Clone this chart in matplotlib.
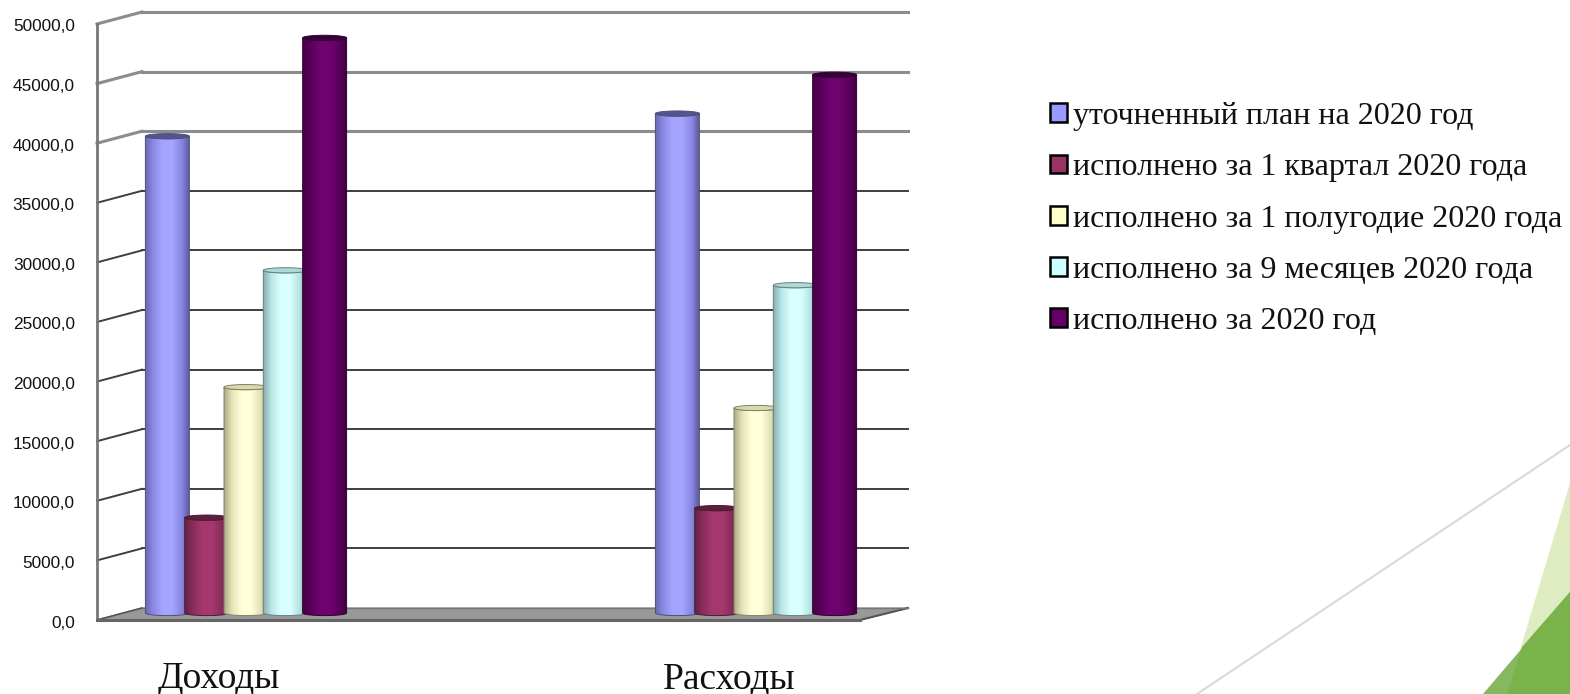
import numpy as np
import matplotlib
matplotlib.use("Agg")
import matplotlib.pyplot as plt
from matplotlib.colors import LinearSegmentedColormap, to_rgb
from matplotlib.patches import Patch, PathPatch, Polygon
from matplotlib.path import Path
from matplotlib.transforms import Affine2D, IdentityTransform

categories = ["Доходы", "Расходы"]
series_names = ["уточненный план на 2020 год", "исполнено за 1 квартал 2020 года",
                "исполнено за 1 полугодие 2020 года", "исполнено за 9 месяцев 2020 года",
                "исполнено за 2020 год"]
plan = [40000, 41900]
q1 = [8000, 8800]
half_year = [18950, 17200]
nine_months = [28750, 27500]
full_year = [48250, 45150]
series_values = [plan, q1, half_year, nine_months, full_year]
colors = ["#9999ff", "#993366", "#ffffcc", "#ccffff", "#660066"]
cap_shade = [0.55, 0.6, 0.85, 0.85, 0.55]
y_ticks = [0, 5000, 10000, 15000, 20000, 25000, 30000, 35000, 40000, 45000, 50000]
y_labels = ["0,0", "5000,0", "10000,0", "15000,0", "20000,0", "25000,0", "30000,0",
            "35000,0", "40000,0", "45000,0", "50000,0"]

W, H = 1570, 694
fig = plt.figure(figsize=(W / 100, H / 100), dpi=100, facecolor="white")

# decoration in pixel coordinates
def px(points):
    return [(x, H - y) for x, y in points]

(x0, y0), (x1, y1) = px([(1197, 694), (1570, 445)])
fig.add_artist(plt.Line2D([x0, x1], [y0, y1], color="#d9d9d9", lw=1.5, transform=IdentityTransform()))
for pts, col in [([(1570, 483), (1507, 694), (1570, 694)], "#dfebc1"),
                 ([(1570, 592), (1483, 694), (1570, 694)], "#85b85f"),
                 ([(1570, 592), (1522, 647), (1507, 694), (1570, 694)], "#7bb34b")]:
    fig.add_artist(Polygon(px(pts), closed=True, fc=col, ec="none", transform=IdentityTransform()))

ax_l, ax_r, ax_t, ax_b = 97, 860, 24, 620
ax = fig.add_axes([ax_l / W, 1 - ax_b / H, (ax_r - ax_l) / W, (ax_b - ax_t) / H])
ax.patch.set_alpha(0)
unit_x = 510.0
x_first = 219
xlim = ((ax_l - x_first) / unit_x, (ax_r - x_first) / unit_x)
ylim = (0, 50000)
unit_y = (ax_b - ax_t) / 50000
ax.set_xlim(xlim)
ax.set_ylim(ylim)

depth_x, depth_y = 45 / unit_x, 12 / unit_y   # depth of the walls in data units
bar_trans = ax.transData + Affine2D().translate(27, 7)
x_back_end = xlim[1] + depth_x + 3 / unit_x

# floor
ax.fill([xlim[0], xlim[0] + depth_x, x_back_end, xlim[1]],
        [0, depth_y, depth_y, 0], color="#999999", zorder=1, clip_on=False)
ax.plot([xlim[1], x_back_end], [0, depth_y], color="#555555", lw=1.5, zorder=1, clip_on=False)
ax.plot([xlim[0] + depth_x, x_back_end], [depth_y, depth_y], color="#777777", lw=1, zorder=1, clip_on=False)

# walls
for v in y_ticks[1:]:
    col, lw = ("#8c8c8c", 2.2) if v >= 40000 else ("#3f3f3f", 1.4)
    ax.plot([xlim[0], xlim[0] + depth_x], [v, v + depth_y], color=col, lw=lw, zorder=1, clip_on=False)
    ax.plot([xlim[0] + depth_x, x_back_end], [v + depth_y, v + depth_y],
            color=col, lw=lw, zorder=1, clip_on=False)
ax.plot([xlim[0], xlim[0] + depth_x], [0, depth_y], color="#555555", lw=1.2, zorder=1.5, clip_on=False)

# cylinders
width = 44 / unit_x
step = 39.3 / unit_x
ry = 2.6 / unit_y
theta = np.linspace(0, np.pi, 40)
z = 3
for i, (vals, col, shade) in enumerate(zip(series_values, colors, cap_shade)):
    c = np.array(to_rgb(col))
    light = np.clip(c * 1.06 + 0.01, 0, 1)
    cmap = LinearSegmentedColormap.from_list(
        f"cyl{i}", [(0, c * 0.68), (0.18, c * 0.9), (0.4, light), (0.62, light), (0.85, c * 0.88), (1, c * 0.62)])
    for k, v in enumerate(vals):
        xc = k + (i - 2) * step
        rx = width / 2
        bx = xc - rx * np.cos(theta)
        by = -ry * np.sin(theta)
        tx = xc + rx * np.cos(theta)
        ty = v - ry * np.sin(theta)
        verts = np.column_stack([np.r_[bx, tx], np.r_[by, ty]])
        body = Path(np.vstack([verts, verts[0]]), closed=True)
        im = ax.imshow(np.linspace(0, 1, 64).reshape(1, -1), cmap=cmap, aspect="auto",
                       extent=(xc - rx, xc + rx, -ry, v + ry), transform=bar_trans,
                       interpolation="bilinear", zorder=z + i)
        im.set_clip_path(body, bar_trans)
        ax.add_patch(PathPatch(body, fc="none", ec=c * 0.5, lw=0.7, transform=bar_trans,
                               zorder=z + i + 0.1, clip_on=False))
        th = np.linspace(0, 2 * np.pi, 60)
        ax.fill(xc + rx * np.cos(th), v + ry * np.sin(th), fc=c * shade, ec=c * 0.5, lw=0.7,
                transform=bar_trans, zorder=z + i + 0.2, clip_on=False)
ax.set_xlim(xlim)
ax.set_ylim(ylim)

# axes
for s in ("top", "right"):
    ax.spines[s].set_visible(False)
ax.spines["left"].set_color("#777777")
ax.spines["left"].set_linewidth(2)
ax.spines["bottom"].set_color("#666666")
ax.spines["bottom"].set_linewidth(2.2)
ax.set_yticks(y_ticks, y_labels, fontfamily="Liberation Sans", fontsize=12.4, color="#111111")
ax.set_xticks([0, 1], categories, fontfamily="Liberation Serif", fontsize=27, color="#111111")
ax.tick_params(axis="y", length=0, pad=16)
ax.tick_params(axis="x", length=0, pad=30)
for lab in ax.get_yticklabels():
    lab.set_transform(lab.get_transform() + Affine2D().translate(0, -1.5))

handles = [Patch(fc=c, ec="black", lw=1.8) for c in colors]
fig.legend(handles, series_names, loc="upper left", bbox_to_anchor=(1050 / W, 1 - 102 / H),
           frameon=False, borderpad=0, borderaxespad=0, handlelength=0.53, handleheight=0.53,
           handletextpad=0.18, labelspacing=0.697,
           prop={"family": "Liberation Serif", "size": 23}, labelcolor="#111111")

fig.savefig("out.png", dpi=100, facecolor="white")
